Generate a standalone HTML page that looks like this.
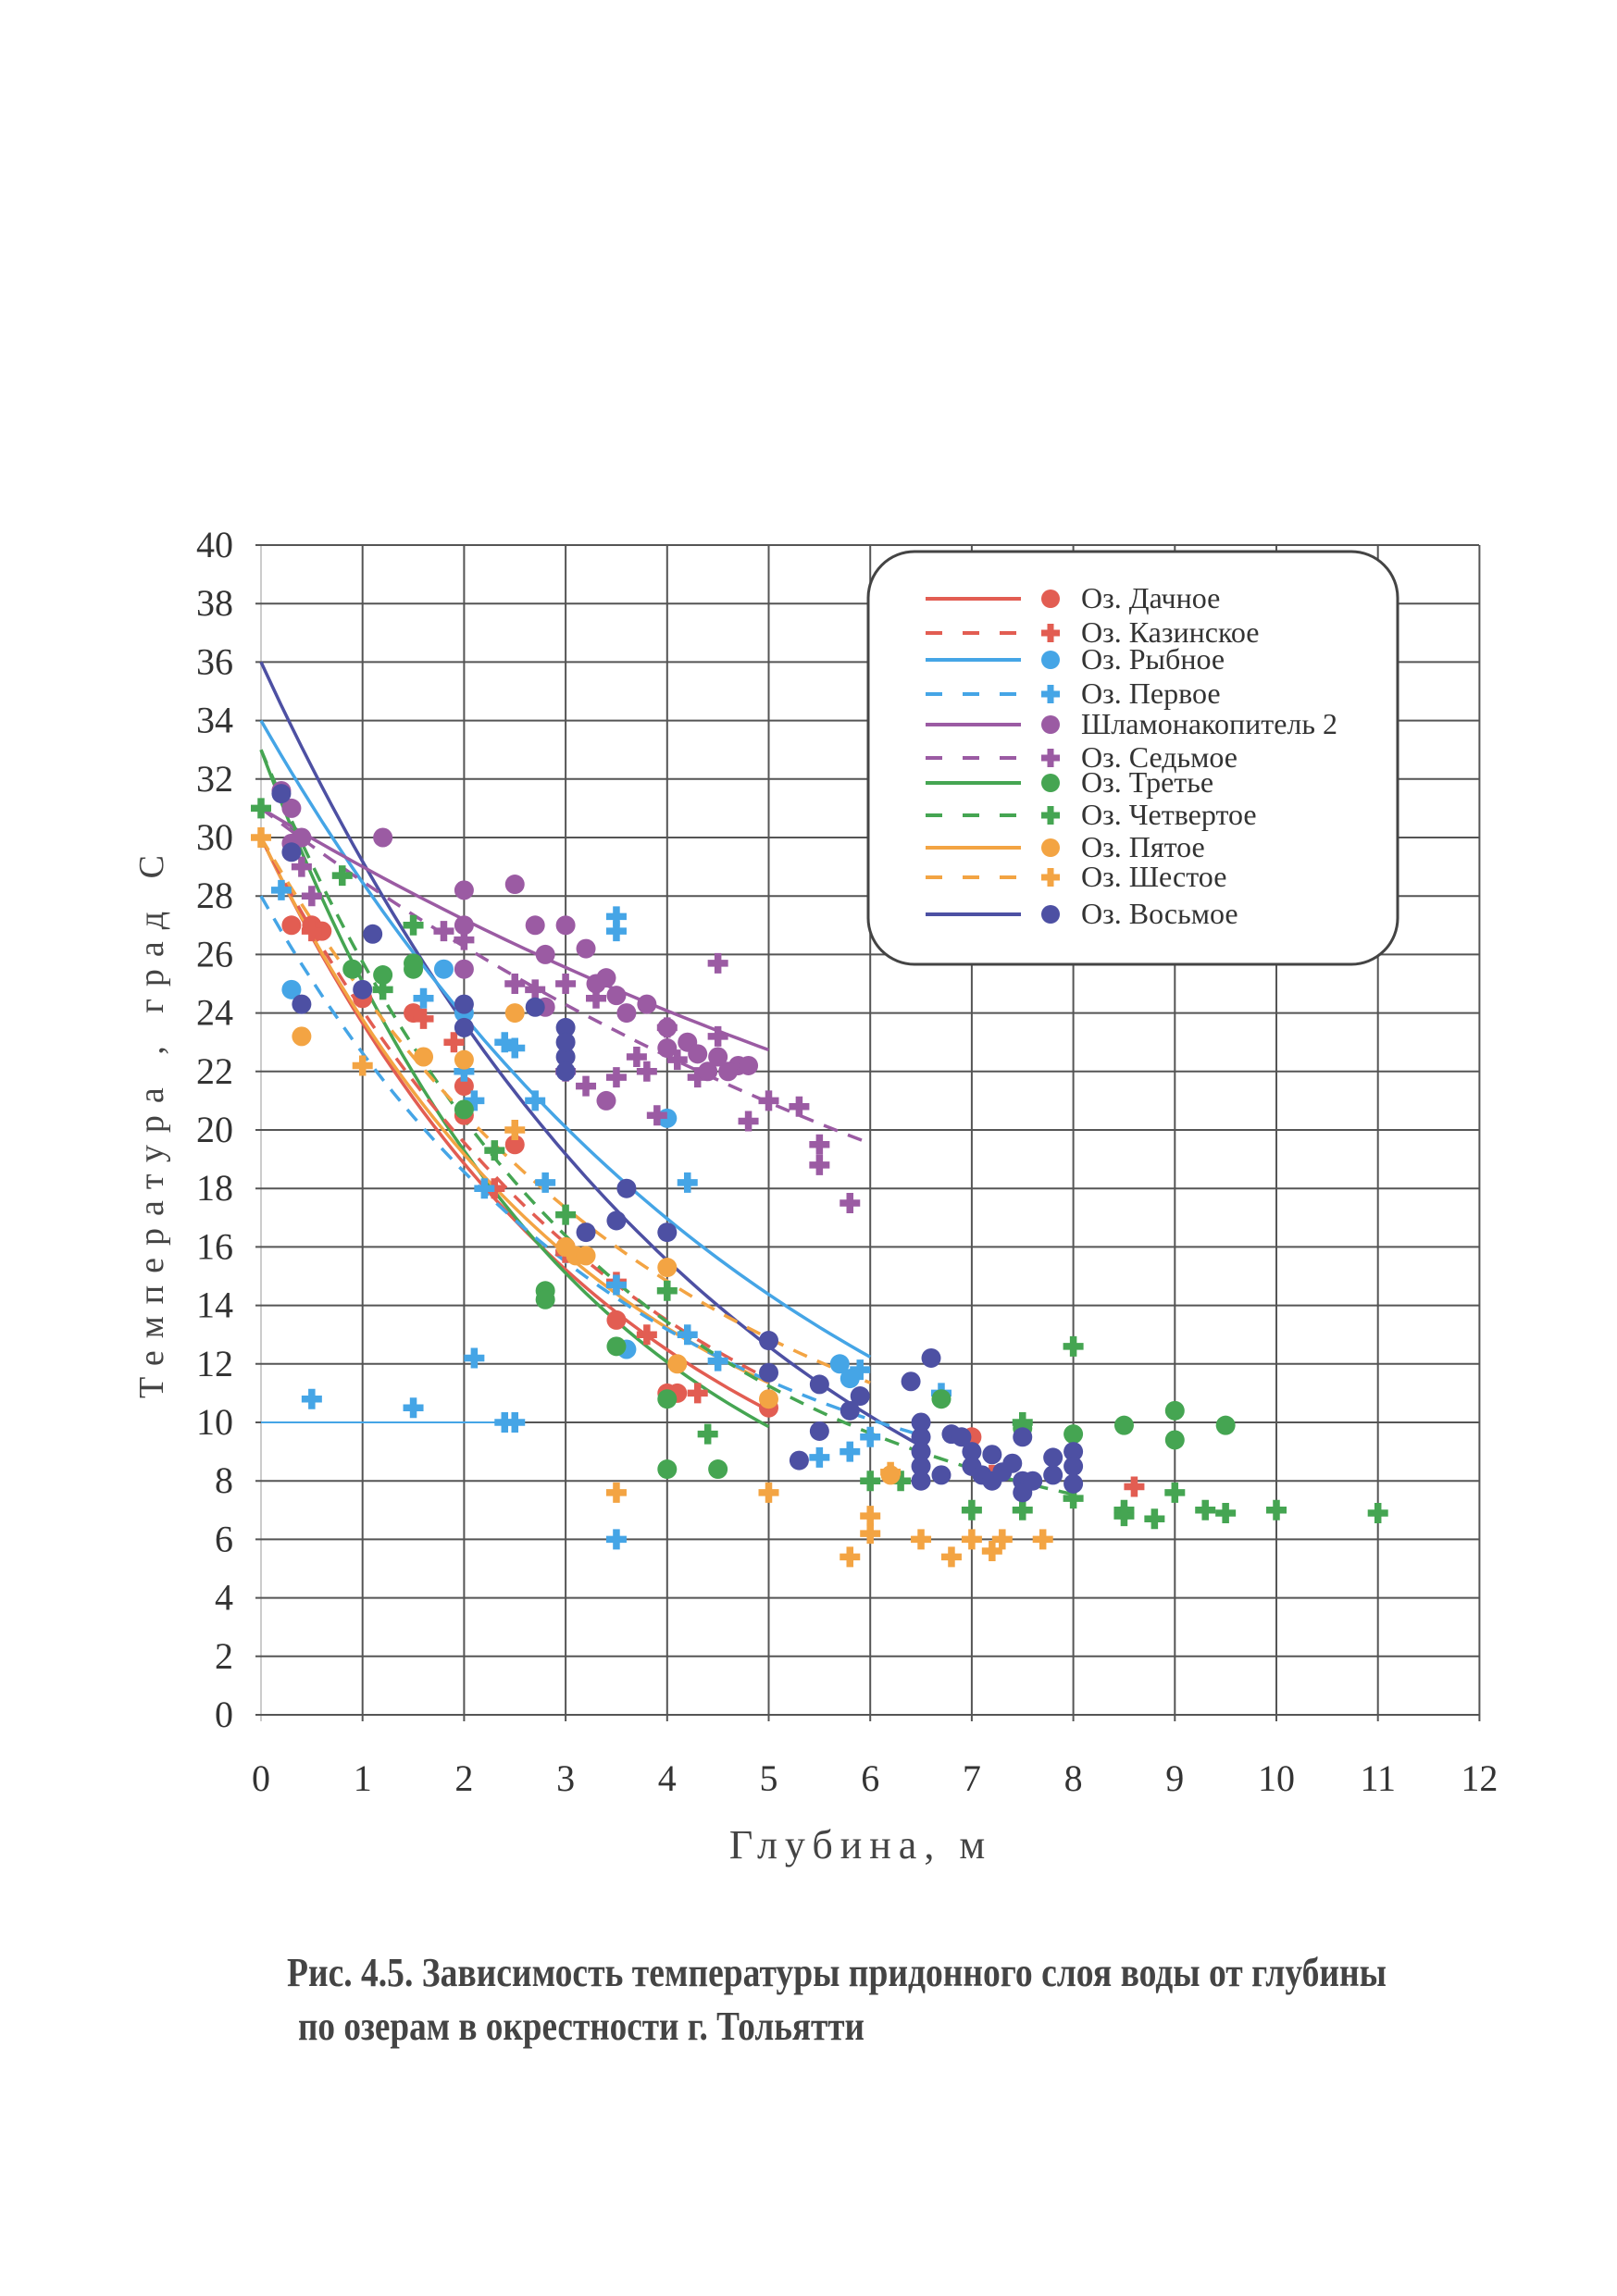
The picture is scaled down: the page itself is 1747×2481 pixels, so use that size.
<!DOCTYPE html>
<html><head><meta charset="utf-8"><style>
html,body{margin:0;padding:0;background:#fff}
svg{display:block}
</style></head><body>
<svg id="s" width="1747" height="2481" viewBox="0 0 1747 2481" xmlns="http://www.w3.org/2000/svg" font-family="'Liberation Serif','Noto Serif CJK SC',serif">
<rect width="1747" height="2481" fill="#fff"/>
<g id="grid"></g>
<g id="curves" fill="none" stroke-width="3.5"></g>
<g id="pts"></g>
<g id="legend"></g>
<g id="labels" fill="#333" font-size="40"></g>
<text x="930" y="2008" font-size="44" fill="#444" text-anchor="middle" letter-spacing="8">Глубина, м</text>
<text transform="translate(176,1211) rotate(-90)" font-size="38" fill="#444" text-anchor="middle" letter-spacing="13">Температура ,  град С</text>
<text x="310" y="2146" font-size="44" font-weight="bold" fill="#444" textLength="1188" lengthAdjust="spacingAndGlyphs" font-family="'Liberation Sans Narrow','Liberation Serif',serif">Рис. 4.5.  Зависимость температуры придонного слоя воды от глубины</text>
<text x="322" y="2204" font-size="44" font-weight="bold" fill="#444" textLength="612" lengthAdjust="spacingAndGlyphs" font-family="'Liberation Sans Narrow','Liberation Serif',serif">по озерам в окрестности г. Тольятти</text>
</svg>
<script>
var NS="http://www.w3.org/2000/svg";
function X(d){return 282+109.7*d}
function Y(t){return 1853-31.6*t}
function el(p,n,a){var e=document.createElementNS(NS,n);for(var k in a)e.setAttribute(k,a[k]);p.appendChild(e);return e}
var g=document.getElementById('grid');
for(var i=0;i<=12;i++){el(g,'line',{x1:X(i),y1:589,x2:X(i),y2:1860,stroke:i==0?'#ccc':'#555','stroke-width':2})}
for(var t=0;t<=40;t+=2){el(g,'line',{x1:276,y1:Y(t),x2:1598,y2:Y(t),stroke:'#555','stroke-width':2})}
var L=document.getElementById('labels');
for(var t=0;t<=40;t+=2){var e=el(L,'text',{x:252,y:Y(t)+13,'text-anchor':'end'});e.textContent=t}
for(var i=0;i<=12;i++){var e=el(L,'text',{x:X(i),y:1935,'text-anchor':'middle'});e.textContent=i}
var C={r:'#e25d52',b:'#45a5e6',p:'#9b5ba3',g:'#45a552',o:'#f3a443',d:'#4d50a3'};
var cv=document.getElementById('curves');
function curve(pts,col,dash){var d=pts.map(function(p,i){return (i?'L':'M')+X(p[0]).toFixed(1)+','+Y(p[1]).toFixed(1)}).join(' ');
var a={d:d,stroke:col};if(dash)a['stroke-dasharray']='16,12';el(cv,'path',a)}
function ex(a,b,k,x0,x1,col,dash){var p=[];for(var x=x0;x<=x1+1e-6;x+=0.1)p.push([x,b+(a-b)*Math.exp(-k*x)]);curve(p,col,dash)}
el(cv,'line',{x1:X(0),y1:Y(10),x2:X(2.6),y2:Y(10),stroke:C.b,'stroke-width':2});
ex(36,0,0.21,0,6.5,C.d);
ex(34,2,0.19,0,6.0,C.b);
ex(30,4,0.28,0,5,C.r);
ex(33,4,0.32,0,5,C.g);
ex(30,6,0.3,0,5,C.o);
ex(31,10,0.1,0,5,C.p);
ex(31,8,0.115,0,6,C.p,1);
ex(28,6,0.28,0,6.5,C.b,1);
ex(30,5,0.27,0,5,C.r,1);
ex(33,5,0.3,0,8,C.g,1);
ex(30,6,0.25,0,6,C.o,1);
var P=document.getElementById('pts');
function circ(arr,col){arr.forEach(function(p){el(P,'circle',{cx:X(p[0]),cy:Y(p[1]),r:10.5,fill:col})})}
function plus(arr,col){arr.forEach(function(p){var x=X(p[0]),y=Y(p[1]);el(P,'path',{d:'M'+(x-11)+','+y+'h22M'+x+','+(y-11)+'v22',stroke:col,'stroke-width':7.5,fill:'none'})})}
circ([[0.3,27],[0.5,27],[0.6,26.8],[1,24.5],[1.5,24],[2,21.5],[2,20.5],[2.5,19.5],[3,16],[3.5,13.5],[4,11],[4.1,11],[5,10.5],[7,9.5]],C.r);
plus([[0.5,26.8],[1.6,23.8],[1.9,23],[2.3,18],[3,15.8],[3.5,14.8],[3.8,13],[4.3,11],[8.6,7.8],[7.2,8.2]],C.r);
plus([[0.2,28.2],[0.5,10.8],[1.5,10.5],[1.6,24.5],[2,22],[2.1,21],[2.2,18],[2.4,23],[2.5,22.8],[2.1,12.2],[2.4,10],[2.5,10],[2.8,18.2],[2.7,21],[3.5,27.3],[3.5,26.8],[3.5,14.7],[3.5,6],[4.2,18.2],[4.2,13],[4.5,12.1],[5.5,8.8],[5.8,9],[5.9,11.8],[6,9.5],[6.7,11]],C.b);
circ([[0.3,24.8],[1.8,25.5],[2,24],[4,20.4],[5.7,12],[5.8,11.5],[3.6,12.5]],C.b);
plus([[0.4,29],[0.5,28],[1.8,26.8],[2,26.5],[2.5,25],[2.7,24.8],[3,25],[3,22],[3.2,21.5],[3.5,21.8],[3.7,22.5],[3.8,22],[4,23.5],[4.3,21.8],[4.5,25.7],[4.5,23.2],[4.8,20.3],[5,21],[5.3,20.8],[5.5,19.5],[5.5,18.8],[5.8,17.5],[3.9,20.5],[3.3,24.5],[4.1,22.4]],C.p);
circ([[0.2,31.6],[0.3,31],[0.3,29.8],[0.4,30],[1.2,30],[2,28.2],[2,27],[2,25.5],[2.5,28.4],[2.7,27],[2.8,26],[3,27],[3.2,26.2],[3.3,25],[3.4,25.2],[3.5,24.6],[3.6,24],[3.8,24.3],[4,23.5],[4,22.8],[4.2,23],[4.4,22],[4.5,22.5],[4.7,22.2],[3.4,21],[4.8,22.2],[2.8,24.2],[4.6,22],[4.3,22.6]],C.p);
plus([[0,31],[0.8,28.7],[1.2,24.8],[1.5,27],[2.3,19.3],[3,17.1],[4,14.5],[4.4,9.6],[6,8],[7,7],[7.5,7],[7.5,10],[8,12.6],[8,7.4],[8.5,7],[8.5,6.8],[8.8,6.7],[9,7.6],[9.3,7],[9.5,6.9],[10,7],[11,6.9],[6.3,8]],C.g);
circ([[0.9,25.5],[1.2,25.3],[1.5,25.7],[1.5,25.5],[2,20.7],[2.8,14.5],[2.8,14.2],[3.5,12.6],[4,10.8],[4,8.4],[4.5,8.4],[6.7,10.8],[8.5,9.9],[9,10.4],[9,9.4],[9.5,9.9],[7.5,9.8],[8,9.6]],C.g);
plus([[0,30],[1,22.2],[2.5,20],[3.5,7.6],[5,7.6],[5.8,5.4],[6,6.8],[6,6.2],[6.5,6],[6.8,5.4],[7,6],[7.2,5.6],[7.3,6],[7.7,6],[6.2,8.3]],C.o);
circ([[0.4,23.2],[1.6,22.5],[2,22.4],[2.5,24],[3,16],[3.1,15.7],[3.2,15.7],[4,15.3],[4.1,12],[5,10.8],[6.2,8.2]],C.o);
circ([[0.2,31.5],[0.3,29.5],[0.4,24.3],[1.1,26.7],[1,24.8],[2,24.3],[2,23.5],[2.7,24.2],[3.2,16.5],[3.5,16.9],[3.6,18],[4,16.5],[5,12.8],[5,11.7],[5.3,8.7],[5.5,11.3],[5.5,9.7],[5.8,10.4],[5.9,10.9],[6.4,11.4],[6.6,12.2],[6.5,10],[6.5,9.5],[6.5,9],[6.5,8.5],[6.5,8],[6.7,8.2],[6.8,9.6],[6.9,9.5],[7,9],[7,8.5],[7.1,8.2],[7.2,8],[7.2,8.9],[7.3,8.3],[7.4,8.6],[7.5,8],[7.5,9.5],[7.5,7.6],[7.6,8],[7.8,8.8],[7.8,8.2],[8,9],[8,8.5],[8,7.9],[3,22.5],[3,23.5],[3,22],[3,23]],C.d);
var G=document.getElementById('legend');
el(G,'rect',{x:938,y:596,width:572,height:446,rx:50,fill:'#fff',stroke:'#444','stroke-width':3});
var rows=[['r',0,0,'Оз. Дачное',647],['r',1,1,'Оз. Казинское',684],['b',0,0,'Оз. Рыбное',713],['b',1,1,'Оз. Первое',750],['p',0,0,'Шламонакопитель 2',783],['p',1,1,'Оз. Седьмое',819],['g',0,0,'Оз. Третье',846],['g',1,1,'Оз. Четвертое',881],['o',0,0,'Оз. Пятое',916],['o',1,1,'Оз. Шестое',948],['d',0,0,'Оз. Восьмое',988]];
rows.forEach(function(r){var c=C[r[0]],y=r[4];var a={x1:1000,y1:y,x2:1103,y2:y,stroke:c,'stroke-width':4};if(r[1])a['stroke-dasharray']='18,22';el(G,'line',a);
if(r[2]){el(G,'path',{d:'M1125,'+y+'h20M1135,'+(y-10)+'v20',stroke:c,'stroke-width':7})}else el(G,'circle',{cx:1135,cy:y,r:10,fill:c});
var e=el(G,'text',{x:1168,y:y+10,'font-size':32,fill:'#333'});e.textContent=r[3]});
</script>
</body></html>
